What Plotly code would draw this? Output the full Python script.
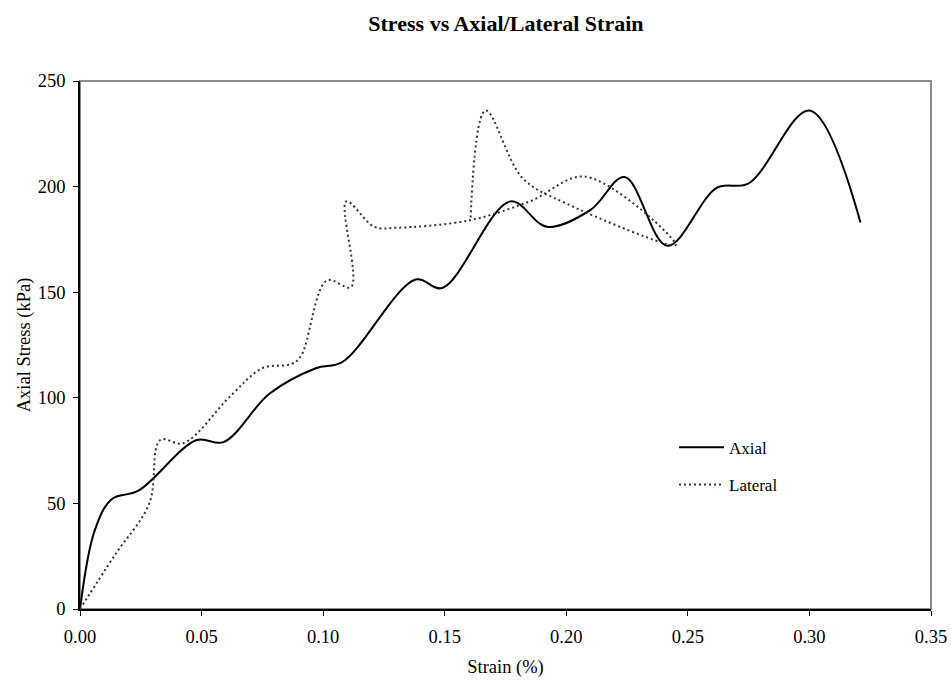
import plotly.graph_objects as go

# Axial strain (%) vs axial stress (kPa)
axial_strain = [0.0, 0.006, 0.013, 0.024, 0.048, 0.059, 0.078, 0.097, 0.108,
                0.138, 0.149, 0.177, 0.192, 0.210, 0.224, 0.2415, 0.262, 0.275,
                0.300, 0.321]
axial_stress = [0, 37, 52, 56, 80, 79, 102, 114, 117,
                156, 152, 193, 181, 189, 204.5, 172, 199.5, 201.5,
                236, 183]

# Lateral strain (%) vs axial stress (kPa)
lateral_strain = [0.0, 0.014, 0.0285, 0.033, 0.0425, 0.062, 0.075, 0.087, 0.091,
                  0.1015, 0.1115, 0.1095, 0.121, 0.130, 0.160, 0.185, 0.208,
                  0.245, 0.200, 0.182, 0.1668, 0.1606]
lateral_stress = [0, 25, 50, 80, 78.5, 101, 114, 116, 120,
                  155.5, 152.5, 193, 181, 180.5, 184, 193, 204.7,
                  172.3, 192, 204, 236, 184]

x_ticks = [0.0, 0.05, 0.10, 0.15, 0.20, 0.25, 0.30, 0.35]
y_ticks = [0, 50, 100, 150, 200, 250]

FONT = "Liberation Serif, Times New Roman, serif"

fig = go.Figure()
fig.add_trace(go.Scatter(
    x=axial_strain, y=axial_stress, name="Axial", mode="lines",
    line=dict(color="black", width=2, shape="spline", smoothing=1.0),
    legend="legend", showlegend=True,
))
fig.add_trace(go.Scatter(
    x=lateral_strain, y=lateral_stress, name="Lateral", mode="lines",
    line=dict(color="#333333", width=2, shape="spline", smoothing=1.0, dash="2px,3px"),
    legend="legend2", showlegend=True,
))

# gray plot-area border (top/right visible; left/bottom covered by axis lines)
fig.add_shape(type="rect", xref="paper", yref="paper", x0=0, y0=0, x1=1, y1=1,
              line=dict(color="#8c8c8c", width=2), layer="below")

fig.update_layout(
    width=951, height=681,
    margin=dict(l=80, r=20, t=81, b=72, autoexpand=False),
    paper_bgcolor="white", plot_bgcolor="white",
    showlegend=True,
    font=dict(family=FONT, size=18.5, color="black"),
    title=dict(text="<b>Stress vs Axial/Lateral Strain</b>", x=0.532, xanchor="center",
               y=1 - 23 / 681, yanchor="middle", font=dict(family=FONT, size=22)),
    xaxis=dict(range=[0, 0.35], tickvals=x_ticks, tickformat=".2f", automargin=False,
               showgrid=False, zeroline=False, showline=True, linecolor="black",
               linewidth=1.5, ticks="outside", ticklen=5, tickcolor="black",
               ticklabelstandoff=5, tickfont=dict(size=18.5),
               title=dict(text="Strain (%)", font=dict(size=18.5), standoff=14)),
    yaxis=dict(range=[0, 250], tickvals=y_ticks, automargin=False,
               showgrid=False, zeroline=False, showline=True, linecolor="black",
               linewidth=1.5, ticks="outside", ticklen=5, tickcolor="black",
               ticklabelstandoff=4, tickfont=dict(size=18.5),
               title=dict(text="Axial Stress (kPa)", font=dict(size=18.5), standoff=2)),
    legend=dict(x=0.698, y=0.3055, xanchor="left", yanchor="middle", itemwidth=45,
                bgcolor="rgba(0,0,0,0)", font=dict(size=17)),
    legend2=dict(x=0.698, y=0.2348, xanchor="left", yanchor="middle", itemwidth=45,
                 bgcolor="rgba(0,0,0,0)", font=dict(size=17)),
)

fig.write_html("out.html")
